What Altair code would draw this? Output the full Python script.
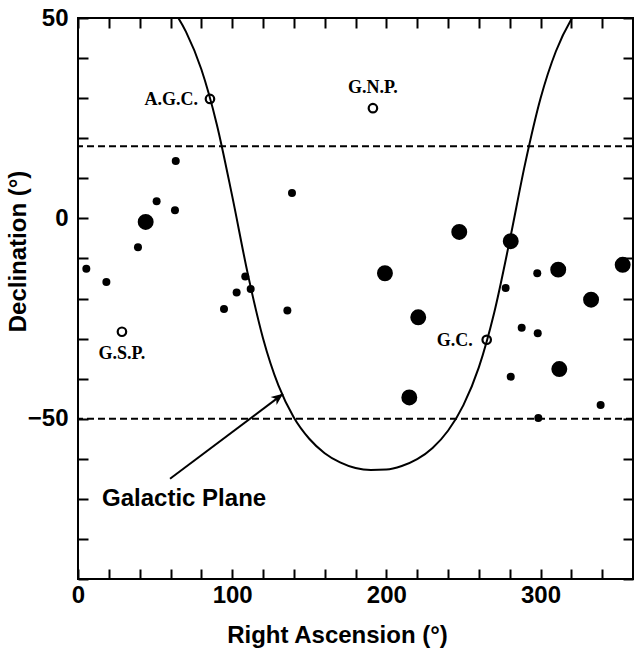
import altair as alt
import pandas as pd

# ---- data ----
small_ra = [5.4, 18.4, 38.9, 51.0, 62.9, 63.4, 94.7, 102.9, 108.5, 112.0, 135.8, 138.8,
            277.4, 280.7, 287.8, 297.9, 298.2, 298.6, 339.0]
small_dec = [-12.6, -15.9, -7.2, 4.3, 2.0, 14.3, -22.6, -18.5, -14.5, -17.6, -23.0, 6.3,
             -17.4, -39.5, -27.3, -13.7, -28.7, -49.8, -46.6]

big_ra = [43.9, 199.1, 214.9, 220.7, 247.3, 280.7, 311.5, 312.2, 332.8, 353.3]
big_dec = [-0.9, -13.7, -44.7, -24.7, -3.4, -5.7, -12.8, -37.6, -20.3, -11.6]

ref_name = ["A.G.C.", "G.N.P.", "G.S.P.", "G.C."]
ref_ra = [85.6, 191.3, 28.5, 265.1]
ref_dec = [29.8, 27.5, -28.3, -30.3]

plane_ra = [60, 70, 80, 90, 100, 110, 120, 130, 140, 150, 160, 170, 180, 190, 200,
            210, 220, 230, 240, 250, 260, 270, 280, 290, 300, 310, 320, 330]
plane_dec = [53.0, 46.6, 37.2, 23.5, 5.6, -13.6, -29.9, -41.7, -49.7, -55.0, -58.6, -60.9,
             -62.3, -62.8, -62.7, -61.8, -60.1, -57.3, -53.0, -46.6, -37.2, -23.5, -5.6,
             13.6, 29.9, 41.7, 49.7, 55.0]

dec_limits = [18, -50]

arrow_tail = [59.7, -65.0]
arrow_head = [133.0, -43.8]
plane_label = ["Galactic Plane"]
plane_label_pos = [15.6, -70.0]

x_ticks = list(range(0, 361, 20))
y_ticks = list(range(-90, 51, 10))

# ---- tables ----
small_df = pd.DataFrame({"ra": small_ra, "dec": small_dec})
big_df = pd.DataFrame({"ra": big_ra, "dec": big_dec})
ref_df = pd.DataFrame({"name": ref_name, "ra": ref_ra, "dec": ref_dec})
plane_df = pd.DataFrame({"ra": plane_ra, "dec": plane_dec})
lim_df = pd.DataFrame({"dec": dec_limits})
arrow_df = pd.DataFrame({"ra": [arrow_tail[0]], "dec": [arrow_tail[1]],
                         "ra2": [arrow_head[0]], "dec2": [arrow_head[1]]})
head_df = pd.DataFrame({"ra": [arrow_head[0]], "dec": [arrow_head[1]]})
label_df = pd.DataFrame({"t": plane_label, "ra": [plane_label_pos[0]], "dec": [plane_label_pos[1]]})

FONT = "Liberation Sans"
SERIF = "Liberation Serif"
xs = alt.Scale(domain=[0, 360], nice=False, zero=False)
ys = alt.Scale(domain=[-90, 50], nice=False, zero=False)

tick_common = dict(offset=-10, tickSize=10, tickWidth=2, tickColor="black",
                   domain=False, grid=False)

x_bottom = alt.Axis(orient="bottom", values=x_ticks,
                    labelExpr="datum.value % 100 === 0 ? datum.label : ''",
                    labelFlush=False, labelOverlap=False, labelFont=FONT,
                    labelFontSize=24, labelFontWeight="bold", labelColor="black",
                    labelPadding=4,
                    title="Right Ascension (°)", titleFont=FONT, titleFontSize=24,
                    titleFontWeight="bold", titleColor="black", titleX=259, titleY=73,
                    titleAlign="center", titleBaseline="alphabetic", **tick_common)
y_left = alt.Axis(orient="left", values=y_ticks,
                  labelExpr="datum.value % 50 === 0 ? datum.label : ''",
                  labelFlush=False, labelOverlap=False, labelFont=FONT,
                  labelFontSize=24, labelFontWeight="bold", labelColor="black",
                  labelPadding=10,
                  title="Declination (°)", titleFont=FONT, titleFontSize=24,
                  titleFontWeight="bold", titleColor="black", titleAngle=270,
                  titleX=-63, titleY=233, titleAlign="center", titleBaseline="alphabetic",
                  **tick_common)
x_top = alt.Axis(orient="top", values=x_ticks, labels=False, title=None, **tick_common)
y_right = alt.Axis(orient="right", values=y_ticks, labels=False, title=None, **tick_common)

limits = alt.Chart(lim_df).mark_rule(color="black", strokeWidth=2, strokeDash=[7, 4]).encode(
    y=alt.Y("dec:Q", scale=ys, axis=None))

plane = alt.Chart(plane_df).mark_line(color="black", strokeWidth=2, clip=True,
                                      interpolate="monotone").encode(
    x=alt.X("ra:Q", scale=xs, axis=x_bottom),
    y=alt.Y("dec:Q", scale=ys, axis=y_left))

small = alt.Chart(small_df).mark_circle(color="black", opacity=1, size=64).encode(
    x=alt.X("ra:Q", scale=xs, axis=x_top),
    y=alt.Y("dec:Q", scale=ys, axis=y_right))

big = alt.Chart(big_df).mark_circle(color="black", opacity=1, size=254).encode(
    x=alt.X("ra:Q", scale=xs, axis=None),
    y=alt.Y("dec:Q", scale=ys, axis=None))

refs = alt.Chart(ref_df).mark_point(filled=False, color="black", strokeWidth=2.2,
                                    opacity=1, size=72).encode(
    x=alt.X("ra:Q", scale=xs, axis=None),
    y=alt.Y("dec:Q", scale=ys, axis=None))


def ref_text(name, **kw):
    return alt.Chart(ref_df).transform_filter(alt.datum.name == name).mark_text(
        font=SERIF, fontWeight="bold", fontSize=18, color="black", **kw).encode(
        x=alt.X("ra:Q", scale=xs, axis=None),
        y=alt.Y("dec:Q", scale=ys, axis=None),
        text="name:N")


t_agc = ref_text("A.G.C.", align="right", baseline="middle", dx=-12, dy=1)
t_gnp = ref_text("G.N.P.", align="center", baseline="middle", dy=-20)
t_gsp = ref_text("G.S.P.", align="center", baseline="middle", dy=22)
t_gc = ref_text("G.C.", align="right", baseline="middle", dx=-14, dy=1)

arrow = alt.Chart(arrow_df).mark_rule(color="black", strokeWidth=2).encode(
    x=alt.X("ra:Q", scale=xs, axis=None),
    y=alt.Y("dec:Q", scale=ys, axis=None),
    x2="ra2:Q", y2="dec2:Q")

head = alt.Chart(head_df).mark_point(shape="M0,0L-0.42,1L0,0.72L0.42,1Z", filled=True,
                                     color="black", opacity=1, size=560, angle=53,
                                     strokeWidth=0).encode(
    x=alt.X("ra:Q", scale=xs, axis=None),
    y=alt.Y("dec:Q", scale=ys, axis=None))

plabel = alt.Chart(label_df).mark_text(font=FONT, fontWeight="bold", fontSize=24,
                                       color="black", align="left",
                                       baseline="middle").encode(
    x=alt.X("ra:Q", scale=xs, axis=None),
    y=alt.Y("dec:Q", scale=ys, axis=None),
    text="t:N")

chart = alt.layer(
    limits, plane, small, big, refs, t_agc, t_gnp, t_gsp, t_gc, arrow, head, plabel
).resolve_scale(x="shared", y="shared").resolve_axis(
    x="independent", y="independent"
).properties(
    width=555, height=561,
    autosize=alt.AutoSizeParams(type="none"),
    padding={"left": 78, "top": 18, "right": 1, "bottom": 74},
    background="white",
).configure_view(stroke="black", strokeWidth=2)

chart.save("out.html", embed_options={"renderer": "svg", "actions": False})
